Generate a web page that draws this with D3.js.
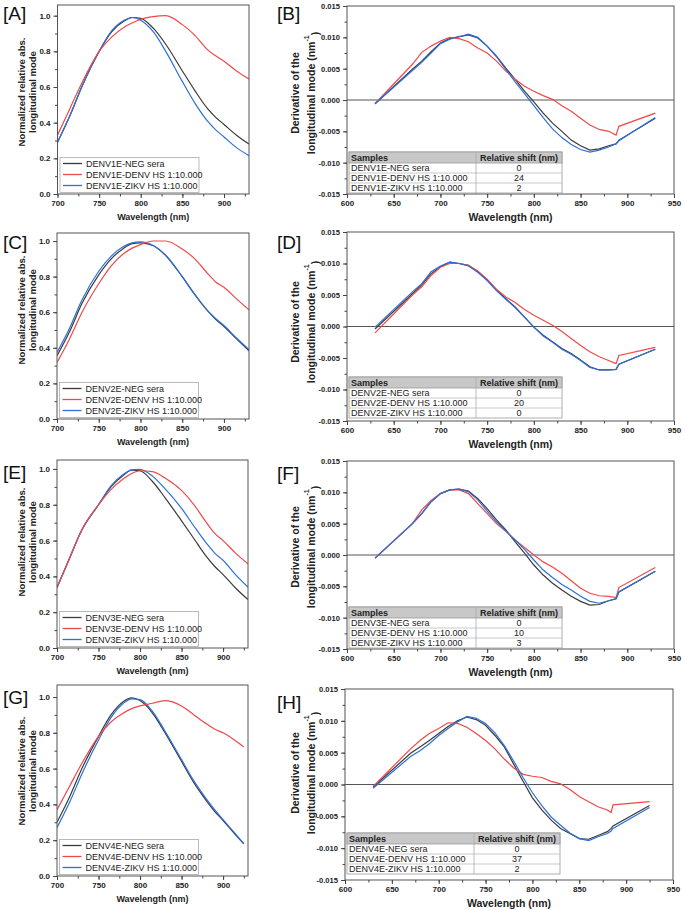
<!DOCTYPE html>
<html><head><meta charset="utf-8">
<script src="https://cdn.jsdelivr.net/npm/d3@7"></script>
<style>
body{margin:0;background:#fff;}
svg{display:block;font-family:"Liberation Sans",Arial,Helvetica,sans-serif;}
</style>
</head><body>
<svg id="chart" width="685" height="910"></svg>
<script>
// ---------- DATA: normalized absorbance (left panels) ----------
const absLambda  = [700,715,730,750,765,780,790,800,815,830,850,865,880,890,900,915,930];
const absLambdaG = [700,715,730,750,765,780,790,800,815,830,850,865,880,890,900,915,925];

const A_neg  = [0.29,0.44,0.61,0.80,0.91,0.97,0.99,0.985,0.93,0.84,0.69,0.58,0.48,0.43,0.39,0.33,0.28];
const A_denv = [0.33,0.48,0.63,0.80,0.88,0.935,0.96,0.98,0.995,1.0,0.95,0.89,0.81,0.775,0.745,0.69,0.645];
const A_zikv = [0.29,0.44,0.61,0.80,0.915,0.975,0.99,0.975,0.91,0.80,0.63,0.51,0.41,0.36,0.32,0.26,0.215];

const C_neg  = [0.355,0.49,0.65,0.81,0.90,0.96,0.985,0.99,0.975,0.92,0.80,0.70,0.61,0.56,0.52,0.45,0.383];
const C_denv = [0.318,0.45,0.60,0.76,0.86,0.93,0.96,0.98,1.0,1.0,0.955,0.90,0.82,0.77,0.74,0.675,0.613];
const C_zikv = [0.374,0.51,0.67,0.83,0.915,0.97,0.99,0.995,0.975,0.92,0.80,0.70,0.61,0.565,0.525,0.455,0.39];

const E_neg  = [0.338,0.50,0.66,0.80,0.90,0.965,0.993,0.99,0.93,0.84,0.71,0.61,0.51,0.455,0.41,0.335,0.27];
const E_denv = [0.338,0.50,0.66,0.80,0.885,0.945,0.975,0.99,0.985,0.95,0.88,0.80,0.70,0.64,0.60,0.53,0.47];
const E_zikv = [0.338,0.50,0.66,0.80,0.905,0.97,0.995,0.998,0.96,0.89,0.78,0.68,0.585,0.53,0.49,0.41,0.34];

const G_neg  = [0.30,0.44,0.60,0.78,0.90,0.975,0.995,0.98,0.91,0.80,0.64,0.52,0.42,0.36,0.31,0.23,0.18];
const G_denv = [0.37,0.50,0.63,0.78,0.86,0.91,0.935,0.95,0.965,0.98,0.95,0.90,0.85,0.82,0.80,0.755,0.72];
const G_zikv = [0.27,0.41,0.57,0.76,0.885,0.965,0.99,0.985,0.92,0.81,0.65,0.53,0.43,0.37,0.315,0.235,0.18];

// ---------- DATA: derivative (right panels) ----------
const derivLambda  = [630,670,680,690,700,710,720,730,740,750,760,770,780,790,800,810,820,830,840,850,860,870,880,888,891,930];
const derivLambdaH = [630,670,680,690,700,710,720,730,740,750,760,770,780,790,800,810,820,830,840,850,860,870,880,884,886,925];

const B_neg  = [-0.0006,0.0049,0.0062,0.0077,0.0091,0.0098,0.0101,0.0104,0.0099,0.0086,0.0070,0.0051,0.0033,0.0014,-0.0003,-0.0021,-0.0037,-0.0050,-0.0064,-0.0073,-0.0080,-0.0078,-0.0073,-0.0070,-0.0064,-0.0029];
const B_denv = [-0.0006,0.0057,0.0076,0.0086,0.0094,0.0100,0.0098,0.0093,0.0083,0.0075,0.0062,0.0046,0.0033,0.0022,0.0014,0.0007,0.0001,-0.0009,-0.0018,-0.0029,-0.0040,-0.0047,-0.0050,-0.0056,-0.0042,-0.0021];
const B_zikv = [-0.0006,0.0047,0.0060,0.0075,0.0090,0.0097,0.0101,0.0105,0.0100,0.0086,0.0069,0.0049,0.0029,0.0010,-0.0009,-0.0028,-0.0046,-0.0060,-0.0071,-0.0079,-0.0083,-0.0080,-0.0075,-0.0070,-0.0065,-0.0028];

const D_neg  = [-0.0004,0.0052,0.0066,0.0084,0.0095,0.0102,0.0100,0.0097,0.0087,0.0074,0.0058,0.0044,0.0031,0.0015,-0.0001,-0.0014,-0.0024,-0.0035,-0.0043,-0.0053,-0.0064,-0.0069,-0.0069,-0.0068,-0.0060,-0.0036];
const D_denv = [-0.0010,0.0050,0.0063,0.0081,0.0094,0.0100,0.0100,0.0097,0.0088,0.0075,0.0059,0.0047,0.0038,0.0027,0.0018,0.0010,0.0002,-0.0008,-0.0019,-0.0030,-0.0040,-0.0048,-0.0054,-0.0059,-0.0046,-0.0033];
const D_zikv = [-0.0001,0.0055,0.0068,0.0087,0.0096,0.0102,0.0100,0.0096,0.0086,0.0073,0.0057,0.0043,0.0030,0.0015,-0.0001,-0.0015,-0.0025,-0.0036,-0.0044,-0.0054,-0.0065,-0.0069,-0.0069,-0.0068,-0.0060,-0.0036];

const F_neg  = [-0.0005,0.0050,0.0066,0.0085,0.0098,0.0104,0.0105,0.0102,0.0090,0.0074,0.0056,0.0040,0.0021,0.0003,-0.0016,-0.0032,-0.0045,-0.0056,-0.0066,-0.0074,-0.0080,-0.0079,-0.0073,-0.0070,-0.0059,-0.0026];
const F_denv = [-0.0005,0.0050,0.0072,0.0087,0.0098,0.0104,0.0104,0.0098,0.0082,0.0066,0.0050,0.0038,0.0024,0.0012,0.0000,-0.0011,-0.0019,-0.0029,-0.0041,-0.0053,-0.0061,-0.0065,-0.0066,-0.0068,-0.0052,-0.0020];
const F_zikv = [-0.0005,0.0050,0.0066,0.0085,0.0098,0.0104,0.0105,0.0101,0.0088,0.0070,0.0053,0.0038,0.0024,0.0009,-0.0008,-0.0024,-0.0036,-0.0047,-0.0056,-0.0066,-0.0074,-0.0077,-0.0073,-0.0070,-0.0059,-0.0026];

const H_neg  = [-0.0004,0.0049,0.0059,0.0069,0.0080,0.0091,0.0100,0.0106,0.0102,0.0093,0.0077,0.0059,0.0032,0.0005,-0.0021,-0.0040,-0.0056,-0.0069,-0.0077,-0.0085,-0.0086,-0.0080,-0.0074,-0.0069,-0.0065,-0.0033];
const H_denv = [-0.0003,0.0056,0.0069,0.0080,0.0088,0.0097,0.0096,0.0090,0.0080,0.0069,0.0056,0.0040,0.0026,0.0016,0.0013,0.0011,0.0005,0.0001,-0.0008,-0.0019,-0.0027,-0.0035,-0.0040,-0.0044,-0.0032,-0.0027];
const H_zikv = [-0.0006,0.0044,0.0053,0.0064,0.0077,0.0088,0.0098,0.0107,0.0104,0.0096,0.0081,0.0061,0.0037,0.0011,-0.0013,-0.0033,-0.0051,-0.0064,-0.0076,-0.0085,-0.0088,-0.0082,-0.0077,-0.0073,-0.0069,-0.0036];

// ---------- labels / ticks ----------
const absXTicks = [700,750,800,850,900];
const absYTicks = [0.0,0.2,0.4,0.6,0.8,1.0];
const derivXTicks = [600,650,700,750,800,850,900,950];
const derivYTicks = [-0.015,-0.010,-0.005,0.000,0.005,0.010,0.015];

const serotypes = ["DENV1E","DENV2E","DENV3E","DENV4E"];
const sampleSuffix = ["-NEG sera","-DENV HS 1:10.000","-ZIKV HS 1:10.000"];
const shiftB = ["0","24","2"];
const shiftD = ["0","20","0"];
const shiftF = ["0","10","3"];
const shiftH = ["0","37","2"];

const colors = ["#3a3a3a","#f04848","#2c6fdb"];

// ---------- layout ----------
const svg = d3.select("#chart");
const FONT = '"Liberation Sans",Arial,sans-serif';

const absPanels = [
  {lab:"[A]", labX:3, labY:20, x0:57.5, x1:249, y0:5,   y1:194, ymax:1.06,  wl:absLambda,  s:[A_neg,A_denv,A_zikv], sero:0, titleY:92},
  {lab:"[C]", labX:3, labY:249, x0:57,  x1:249, y0:233, y1:419, ymax:1.045, wl:absLambda,  s:[C_neg,C_denv,C_zikv], sero:1, titleY:310},
  {lab:"[E]", labX:3, labY:479, x0:57,  x1:248, y0:460, y1:648, ymax:1.05,  wl:absLambda,  s:[E_neg,E_denv,E_zikv], sero:2, titleY:542},
  {lab:"[G]", labX:3, labY:704, x0:57,  x1:248, y0:685, y1:876, ymax:1.067, wl:absLambdaG, s:[G_neg,G_denv,G_zikv], sero:3, titleY:771}
];
const derivPanels = [
  {lab:"[B]", labX:277, labY:20,  x0:347, x1:674, y0:6,   y1:194, wl:derivLambda,  s:[B_neg,B_denv,B_zikv], sero:0, shifts:shiftB, titleY:93,  tb:1},
  {lab:"[D]", labX:277, labY:249, x0:347, x1:674, y0:232, y1:421, wl:derivLambda,  s:[D_neg,D_denv,D_zikv], sero:1, shifts:shiftD, titleY:322, tb:3},
  {lab:"[F]", labX:277, labY:480, x0:347, x1:674, y0:461, y1:649, wl:derivLambda,  s:[F_neg,F_denv,F_zikv], sero:2, shifts:shiftF, titleY:547, tb:1},
  {lab:"[H]", labX:277, labY:709, x0:345, x1:673, y0:689, y1:880, wl:derivLambdaH, s:[H_neg,H_denv,H_zikv], sero:3, shifts:shiftH, titleY:773, tb:6}
];

const fmtMinus = f => v => f(v).replace("\u2212","-");

function axes(g, x, y, p, xt, xminor, yt, yminor, xfmt, yfmt, fs){
  const gx = g.append("g").attr("transform",`translate(0,${p.y1})`)
    .call(d3.axisBottom(x).tickValues(xminor).tickSize(2.5).tickFormat(""));
  gx.select(".domain").remove();
  const gx2 = g.append("g").attr("transform",`translate(0,${p.y1})`)
    .call(d3.axisBottom(x).tickValues(xt).tickSize(4).tickPadding(2.5).tickFormat(xfmt));
  gx2.select(".domain").remove();
  const gy = g.append("g").attr("transform",`translate(${p.x0},0)`)
    .call(d3.axisLeft(y).tickValues(yminor).tickSize(2.5).tickFormat(""));
  gy.select(".domain").remove();
  const gy2 = g.append("g").attr("transform",`translate(${p.x0},0)`)
    .call(d3.axisLeft(y).tickValues(yt).tickSize(4).tickPadding(3).tickFormat(yfmt));
  gy2.select(".domain").remove();
  g.selectAll(".tick line").attr("stroke","#444");
  g.selectAll(".tick text").attr("font-family",FONT).attr("font-weight","bold").attr("fill","#222");
  gx2.selectAll(".tick text").attr("font-size",fs[0]);
  gy2.selectAll(".tick text").attr("font-size",fs[1]);
}

let clipId = 0;
function clipped(g, p){
  const id = "clip"+(clipId++);
  g.append("clipPath").attr("id",id).append("rect")
    .attr("x",p.x0).attr("y",p.y0).attr("width",p.x1-p.x0).attr("height",p.y1-p.y0);
  return g.append("g").attr("clip-path",`url(#${id})`);
}

// ----- left panels -----
absPanels.forEach(p=>{
  const g = svg.append("g");
  const x = d3.scaleLinear().domain([700,930]).range([p.x0,p.x1]);
  const y = d3.scaleLinear().domain([0,p.ymax]).range([p.y1,p.y0]);
  const lg = clipped(g,p);
  const line = d3.line().x((d,i)=>x(p.wl[i])).y(d=>y(d)).curve(d3.curveMonotoneX);
  [0,2,1].forEach(k=>{
    lg.append("path").attr("d",line(p.s[k])).attr("fill","none")
      .attr("stroke",colors[k]).attr("stroke-width",1.2);
  });
  g.append("rect").attr("x",p.x0).attr("y",p.y0).attr("width",p.x1-p.x0).attr("height",p.y1-p.y0)
    .attr("fill","none").attr("stroke","#555").attr("stroke-width",1);
  axes(g,x,y,p,absXTicks,d3.range(700,931,25),absYTicks,d3.range(0,1.001,0.1),
       d3.format("d"),d3.format(".1f"),[8,8]);
  // legend
  const lx0 = p.x0+2.5, ly0 = p.y1-36.5;
  g.append("rect").attr("x",lx0).attr("y",ly0).attr("width",139).attr("height",35)
    .attr("fill","#fff").attr("stroke","#aaa").attr("stroke-width",0.8);
  sampleSuffix.forEach((s,k)=>{
    const yy = ly0+6+k*11;
    g.append("line").attr("x1",lx0+3).attr("x2",lx0+22).attr("y1",yy).attr("y2",yy)
      .attr("stroke",colors[k]).attr("stroke-width",1.3);
    g.append("text").attr("x",lx0+26).attr("y",yy).attr("dominant-baseline","central")
      .attr("font-size",9).attr("fill","#222").text(serotypes[p.sero]+s);
  });
  // titles
  const cx = (p.x0+p.x1)/2;
  g.append("text").attr("x",cx).attr("y",p.y1+23).attr("text-anchor","middle")
    .attr("dominant-baseline","central").attr("font-size",9).attr("font-weight","bold")
    .attr("fill","#222").text("Wavelength (nm)");
  const yt = g.append("text").attr("transform",`translate(22,${p.titleY}) rotate(-90)`)
    .attr("text-anchor","middle").attr("font-size",9.5).attr("font-weight","bold").attr("fill","#222");
  yt.append("tspan").attr("x",0).attr("dy","0.35em").text("Normalized relative abs.");
  yt.append("tspan").attr("x",0).attr("dy","1.16em").text("longitudinal mode");
  g.append("text").attr("x",p.labX).attr("y",p.labY).attr("font-size",19).attr("fill","#111").text(p.lab);
});

// ----- right panels -----
derivPanels.forEach(p=>{
  const g = svg.append("g");
  const x = d3.scaleLinear().domain([600,950]).range([p.x0,p.x1]);
  const y = d3.scaleLinear().domain([-0.015,0.015]).range([p.y1,p.y0]);
  g.append("line").attr("x1",p.x0).attr("x2",p.x1).attr("y1",y(0)).attr("y2",y(0))
    .attr("stroke","#555").attr("stroke-width",1);
  const lg = clipped(g,p);
  const line = d3.line().x((d,i)=>x(p.wl[i])).y(d=>y(d));
  [0,1,2].forEach(k=>{
    lg.append("path").attr("d",line(p.s[k])).attr("fill","none")
      .attr("stroke",colors[k]).attr("stroke-width",1.2);
  });
  g.append("rect").attr("x",p.x0).attr("y",p.y0).attr("width",p.x1-p.x0).attr("height",p.y1-p.y0)
    .attr("fill","none").attr("stroke","#555").attr("stroke-width",1);
  axes(g,x,y,p,derivXTicks,d3.range(600,951,25),derivYTicks,d3.range(-0.015,0.0151,0.0025),
       d3.format("d"),fmtMinus(d3.format(".3f")),[8,7.6]);
  // table
  const tx = p.x0+2, tw = 213, th = 41, ty = p.y1 - p.tb - th, c1 = tx+127;
  const tg = g.append("g");
  tg.append("rect").attr("x",tx).attr("y",ty).attr("width",tw).attr("height",th)
    .attr("fill","#fff").attr("stroke","#999").attr("stroke-width",0.8);
  tg.append("rect").attr("x",tx).attr("y",ty).attr("width",tw).attr("height",11)
    .attr("fill","#c8c8c8").attr("stroke","#999").attr("stroke-width",0.8);
  [ty+21,ty+31].forEach(yy=>tg.append("line").attr("x1",tx).attr("x2",tx+tw).attr("y1",yy).attr("y2",yy)
    .attr("stroke","#bbb").attr("stroke-width",0.8));
  tg.append("line").attr("x1",c1).attr("x2",c1).attr("y1",ty).attr("y2",ty+th)
    .attr("stroke","#aaa").attr("stroke-width",0.8);
  tg.append("text").attr("x",tx+2).attr("y",ty+5.7).attr("dominant-baseline","central")
    .attr("font-size",9).attr("font-weight","bold").attr("fill","#222").text("Samples");
  tg.append("text").attr("x",(c1+tx+tw)/2).attr("y",ty+5.7).attr("dominant-baseline","central")
    .attr("text-anchor","middle").attr("font-size",9).attr("font-weight","bold").attr("fill","#222").text("Relative shift (nm)");
  sampleSuffix.forEach((s,k)=>{
    const yy = ty+16+k*10;
    tg.append("text").attr("x",tx+2).attr("y",yy).attr("dominant-baseline","central")
      .attr("font-size",9).attr("fill","#222").text(serotypes[p.sero]+s);
    tg.append("text").attr("x",(c1+tx+tw)/2).attr("y",yy).attr("dominant-baseline","central")
      .attr("text-anchor","middle").attr("font-size",9).attr("fill","#222").text(p.shifts[k]);
  });
  // titles
  const cx = (p.x0+p.x1)/2;
  g.append("text").attr("x",cx).attr("y",p.y1+23).attr("text-anchor","middle")
    .attr("dominant-baseline","central").attr("font-size",10.5).attr("font-weight","bold")
    .attr("fill","#222").text("Wavelength (nm)");
  const yt = g.append("text").attr("transform",`translate(295,${p.titleY}) rotate(-90)`)
    .attr("text-anchor","middle").attr("font-size",10.5).attr("font-weight","bold").attr("fill","#222");
  yt.append("tspan").attr("x",0).attr("dy","0.35em").text("Derivative of the");
  yt.append("tspan").attr("x",0).attr("dy","1.6em").text("longitudinal mode (nm");
  yt.append("tspan").attr("font-size",7).attr("dy","-0.9em").text("-1");
  yt.append("tspan").attr("dy","0.9em").text(")");
  g.append("text").attr("x",p.labX).attr("y",p.labY).attr("font-size",19).attr("fill","#111").text(p.lab);
});
</script>
</body></html>
